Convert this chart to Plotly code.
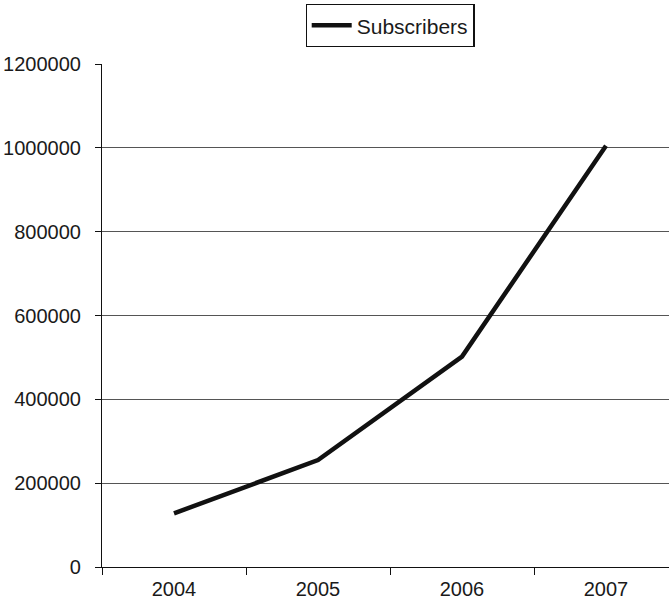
import plotly.graph_objects as go

years = ["2004", "2005", "2006", "2007"]
subscribers = [128000, 255000, 502000, 1005000]
y_ticks = [0, 200000, 400000, 600000, 800000, 1000000, 1200000]

fig = go.Figure()
fig.add_trace(go.Scatter(
    x=years, y=subscribers, mode="lines", name="Subscribers",
    line=dict(color="#111111", width=4.5),
))

font = dict(family="Liberation Sans, Arial, sans-serif", size=20, color="#1a1a1a")
lfont = dict(family="Liberation Sans, Arial, sans-serif", size=21, color="#1a1a1a")

fig.update_layout(
    width=669, height=602,
    margin=dict(l=102, r=0, t=64, b=35),
    paper_bgcolor="white", plot_bgcolor="white",
    font=font,
    showlegend=True,
    legend=dict(
        orientation="h", xref="container", yref="container",
        x=390 / 669, xanchor="center", y=1 - 4 / 602, yanchor="top",
        bordercolor="#111111", borderwidth=1.2, bgcolor="white",
        font=lfont, itemwidth=40,
    ),
    xaxis=dict(
        type="category", range=[-0.5, 3.4375],
        showline=True, linecolor="#111111", linewidth=1.2,
        ticks="outside", ticklen=7, tickcolor="#111111", tickwidth=1.2,
        tickson="boundaries", showgrid=False, zeroline=False,
        tickfont=font, ticklabelstandoff=4,
    ),
    yaxis=dict(
        range=[0, 1200000], tickvals=y_ticks, tickformat="d",
        showline=True, linecolor="#111111", linewidth=1.2,
        ticks="outside", ticklen=6, tickcolor="#111111", tickwidth=1.2,
        showgrid=True, gridcolor="#555555", gridwidth=1.2,
        zeroline=False, tickfont=font, ticklabelstandoff=10,
    ),
)

fig.write_html("out.html")
